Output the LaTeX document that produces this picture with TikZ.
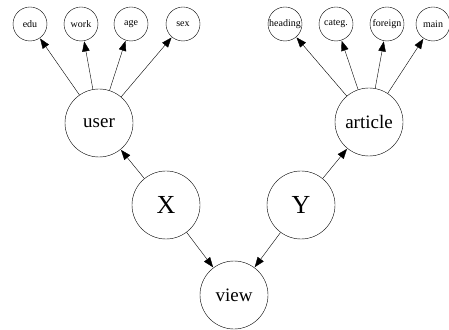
\documentclass[tikz,border=0pt]{standalone}
\usepackage{fontspec}
\setmainfont{Liberation Serif}
\usetikzlibrary{arrows.meta}

\tikzset{
	big/.style={draw, circle, inner sep=0pt, minimum size=68pt, font=\fontsize{19}{19}\selectfont},
	huge/.style={big, font=\fontsize{26}{26}\selectfont},
	attr/.style={draw, circle, inner sep=0pt, minimum size=34pt, font=\fontsize{10}{10}\selectfont},
	edge/.style={-{Triangle[length=10pt,width=7.5pt]}, shorten >=0.5pt}
}

\begin{document}
\begin{tikzpicture}[x=1pt,y=1pt]
	\useasboundingbox (0,0) rectangle (449,329);
%
	\node[big] (user) at (99,206) {user};
	\node[big] (article) at (369,207) {article};
	\node[huge] (X) at (166,124) {X};
	\node[huge] (Y) at (301,124) {Y};
	\node[big] (view) at (234,34) {view};
%
	\node[attr] (edu) at (30,305) {edu};
	\node[attr] (work) at (81,305) {work};
	\node[attr] (age) at (131,305) {age};
	\node[attr] (sex) at (183,305) {sex};
	\node[attr] (heading) at (285,305) {heading};
	\node[attr] (categ) at (336,305) {categ.};
	\node[attr] (foreign) at (387,305) {foreign};
	\node[attr] (main) at (433,305) {main};
%
	\foreach \a in {edu,work,age,sex}
		\draw[edge] (user) -- (\a);
	\foreach \a in {heading,categ,foreign,main}
		\draw[edge] (article) -- (\a);
	\draw[edge] (X) -- (user);
	\draw[edge] (X) -- (view);
	\draw[edge] (Y) -- (article);
	\draw[edge] (Y) -- (view);
\end{tikzpicture}
\end{document}
